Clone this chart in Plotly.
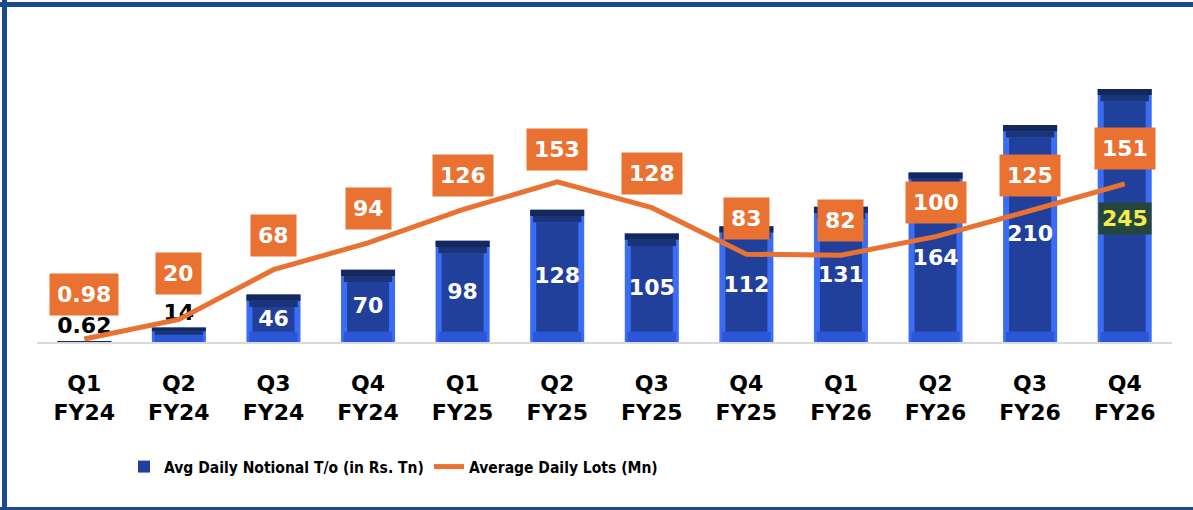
import plotly.graph_objects as go

# ---------------- data ----------------
categories = ["Q1 FY24", "Q2 FY24", "Q3 FY24", "Q4 FY24", "Q1 FY25", "Q2 FY25",
              "Q3 FY25", "Q4 FY25", "Q1 FY26", "Q2 FY26", "Q3 FY26", "Q4 FY26"]
tick_labels = ["Q1<br>FY24", "Q2<br>FY24", "Q3<br>FY24", "Q4<br>FY24", "Q1<br>FY25", "Q2<br>FY25",
               "Q3<br>FY25", "Q4<br>FY25", "Q1<br>FY26", "Q2<br>FY26", "Q3<br>FY26", "Q4<br>FY26"]
notional = [0.62, 14, 46, 70, 98, 128, 105, 112, 131, 164, 210, 245]
notional_text = ["0.62", "14", "46", "70", "98", "128", "105", "112", "131", "164", "210", "245"]
lots = [0.98, 20, 68, 94, 126, 153, 128, 83, 82, 100, 125, 151]
lots_text = ["0.98", "20", "68", "94", "126", "153", "128", "83", "82", "100", "125", "151"]
bar_name = "Avg Daily Notional T/o (in Rs. Tn)"
line_name = "Average Daily Lots (Mn)"
highlight_index = 11

# ---------------- style ----------------
W, H = 1193, 510
ML, MR, MT, MB = 37, 21, 20, 168
PW = W - ML - MR
PH = H - MT - MB
Y1_SCALE = 1.033
Y2_SCALE = 1.047
Y2_ZERO_OFFSET = 2
ORANGE = "#E97132"
NUM_FONT = "DejaVu Sans"
BAR_W, MID_W, INNER_W = 0.571, 0.51, 0.444
CAP, BOT = 12, 10
lot_label_shift = [45, 46, 34, 34, 34, 32, 34, 36, 35, 34, 35, 35]
outside_limit = 20  # bars shorter than this get their label above


def px_x(p):
    return (p - ML) / PW


def px_y(p):
    return (H - MB - p) / PH


def text_w(s, size=22):
    return sum((0.38 if c == "." else 0.696) * size for c in s)


fig = go.Figure()

# light outer body (side bevels)
fig.add_trace(go.Bar(x=categories, y=notional, width=BAR_W, marker=dict(color="#3a6cf4", line=dict(width=0)),
                     showlegend=False, hoverinfo="skip"))
# bottom bevel
fig.add_trace(go.Bar(x=categories, y=[min(v, BOT) for v in notional], width=MID_W,
                     marker=dict(color="#2b56d8", line=dict(width=0)), showlegend=False, hoverinfo="skip"))
# dark centre face
fig.add_trace(go.Bar(x=categories, y=[max(v - CAP - BOT, 0) for v in notional], base=[BOT] * len(notional),
                     width=INNER_W, marker=dict(color="#21409c", line=dict(width=0)), name=bar_name,
                     showlegend=True, hoverinfo="skip"))
# top bevel (two steps)
cap_h = [min(CAP, v * 0.5) for v in notional]
fig.add_trace(go.Bar(x=categories, y=[c / 2 for c in cap_h], base=[v - c for v, c in zip(notional, cap_h)],
                     width=MID_W, marker=dict(color="#1a347a", line=dict(width=0)), showlegend=False,
                     hoverinfo="skip"))
fig.add_trace(go.Bar(x=categories, y=[c / 2 for c in cap_h], base=[v - c / 2 for v, c in zip(notional, cap_h)],
                     width=BAR_W, marker=dict(color="#13285c", line=dict(width=0)), showlegend=False,
                     hoverinfo="skip"))
# value labels
disp_text = ["" if i == highlight_index else t for i, t in enumerate(notional_text)]
positions = ["outside" if v < outside_limit else "inside" for v in notional]
colors = ["black" if v < outside_limit else "white" for v in notional]
fig.add_trace(go.Bar(x=categories, y=notional, width=BAR_W, marker=dict(color="rgba(0,0,0,0)", line=dict(width=0)),
                     text=disp_text, textposition=positions, insidetextanchor="middle", constraintext="none",
                     textangle=0, textfont=dict(family=NUM_FONT, size=22, color=colors, weight="bold"),
                     cliponaxis=False, showlegend=False, hoverinfo="skip"))

# line
fig.add_trace(go.Scatter(x=categories, y=lots, yaxis="y2", mode="lines", name=line_name,
                         line=dict(color=ORANGE, width=5), hoverinfo="skip"))

annotations = []
for i, (c, v, t) in enumerate(zip(categories, lots, lots_text)):
    annotations.append(dict(x=c, y=v, xref="x", yref="y2", yshift=lot_label_shift[i], text=t, showarrow=False,
                            bgcolor=ORANGE, borderpad=8, width=text_w(t) - 2,
                            font=dict(family=NUM_FONT, size=22, color="white", weight="bold")))
annotations.append(dict(x=categories[highlight_index], y=notional[highlight_index] / 2, xref="x", yref="y",
                        yshift=-3, text=notional_text[highlight_index], showarrow=False, bgcolor="#24463c",
                        borderpad=3, font=dict(family=NUM_FONT, size=22, color="#f4eb50", weight="bold")))

border = "#1c4b8c"
shapes = [
    dict(type="line", xref="paper", yref="paper", x0=px_x(0), x1=px_x(W), y0=px_y(4.5), y1=px_y(4.5),
         line=dict(color=border, width=5)),
    dict(type="line", xref="paper", yref="paper", x0=px_x(4.5), x1=px_x(4.5), y0=px_y(0), y1=px_y(H),
         line=dict(color=border, width=5)),
    dict(type="line", xref="paper", yref="paper", x0=px_x(0), x1=px_x(W), y0=px_y(509), y1=px_y(509),
         line=dict(color=border, width=4)),
]

fig.update_layout(
    width=W, height=H, margin=dict(l=ML, r=MR, t=MT, b=MB),
    paper_bgcolor="white", plot_bgcolor="white", barmode="overlay",
    xaxis=dict(type="category", tickmode="array", tickvals=categories, ticktext=tick_labels,
               tickfont=dict(family=NUM_FONT, size=22, color="black", weight="bold"),
               showline=True, linecolor="#d9d9d9", linewidth=2, ticks="", ticklabelstandoff=21,
               showgrid=False, zeroline=False, range=[-0.5, len(categories) - 0.5]),
    yaxis=dict(range=[0, PH / Y1_SCALE], showgrid=False, zeroline=False, showticklabels=False, showline=False),
    yaxis2=dict(range=[-Y2_ZERO_OFFSET / Y2_SCALE, (PH + Y2_ZERO_OFFSET) / Y2_SCALE], overlaying="y",
                side="right", showgrid=False, zeroline=False, showticklabels=False, showline=False),
    legend=dict(orientation="h", x=px_x(124), y=px_y(467), xanchor="left", yanchor="middle",
                entrywidth=260, entrywidthmode="pixels",
                font=dict(family="Liberation Sans Narrow, DejaVu Sans Condensed, sans-serif", size=15.5,
                          color="black", weight="bold"),
                bgcolor="rgba(0,0,0,0)", traceorder="normal"),
    annotations=annotations, shapes=shapes,
)

fig.write_html("out.html", config={"displayModeBar": False},
               post_script="document.body.style.margin='0';")
